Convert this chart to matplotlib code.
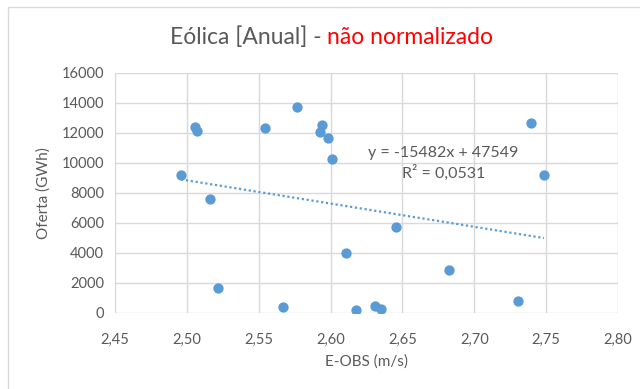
import matplotlib.pyplot as plt
import matplotlib.patches as patches
import numpy as np

# E-OBS wind speed (m/s) vs supply (GWh)
eobs = [2.496, 2.5056, 2.5068, 2.5163, 2.5214, 2.5543, 2.567, 2.5766,
        2.5937, 2.5926, 2.5983, 2.6009, 2.6106, 2.6178, 2.6308, 2.6348,
        2.6454, 2.6823, 2.7307, 2.7395, 2.7485]
oferta = [9170, 12380, 12120, 7570, 1700, 12320, 420, 13720,
          12540, 12070, 11650, 10290, 4020, 180, 490, 290,
          5740, 2880, 820, 12650, 9170]

slope = -15482
intercept = 47549
r2 = 0.0531

blue = '#5B9BD5'
grey = '#595959'
grid = '#D9D9D9'

plt.rcParams['font.family'] = ['Lato', 'DejaVu Sans']

fig = plt.figure(figsize=(6.4, 3.89), dpi=100)
ax = fig.add_axes([115 / 640, 1 - 313 / 389, 503 / 640, 240 / 389])

# outer chart border
fig.patches.append(patches.Rectangle((8 / 640, -0.1), 1.2, 1 - 7 / 389 + 0.1,
                                     transform=fig.transFigure, fill=False,
                                     edgecolor=grid, linewidth=1))

ax.scatter(eobs, oferta, s=55, color=blue, zorder=3, linewidths=0)

xs = np.array([min(eobs), max(eobs)])
ax.plot(xs, slope * xs + intercept, color=blue, linestyle=(0, (1, 1.2)),
        linewidth=1.6, zorder=2)

ax.set_xlim(2.45, 2.80)
ax.set_ylim(0, 16000)
ax.set_xticks(np.arange(2.45, 2.801, 0.05))
ax.set_yticks(np.arange(0, 16001, 2000))
ax.set_xticklabels([f'{v:.2f}'.replace('.', ',') for v in np.arange(2.45, 2.801, 0.05)])
ax.grid(True, color=grid, linewidth=1)
ax.set_axisbelow(True)
for s in ax.spines.values():
    s.set_visible(False)
ax.tick_params(length=0, colors=grey, labelsize=10.5)
ax.tick_params(axis='x', pad=14)
ax.tick_params(axis='y', pad=8)

ax.set_xlabel('E-OBS (m/s)', color=grey, fontsize=11, labelpad=6)
ax.set_ylabel('Oferta (GWh)', color=grey, fontsize=11, labelpad=8)

# trendline equation, two centred lines
ax.text(2.6784, 10700, f'y = {slope}x + {intercept}', color=grey,
        fontsize=11.5, ha='center', va='center')
ax.text(2.6784, 9372, f'R² = {r2:.4f}'.replace('.', ','), color=grey,
        fontsize=11.5, ha='center', va='center')

fig.text(327 / 640, 1 - 37 / 389, 'Eólica [Anual] - ', color=grey,
         fontsize=16.5, ha='right', va='center')
fig.text(327 / 640, 1 - 37 / 389, 'não normalizado', color='#FF0000',
         fontsize=16.5, ha='left', va='center')

fig.savefig('out.png', dpi=100)
